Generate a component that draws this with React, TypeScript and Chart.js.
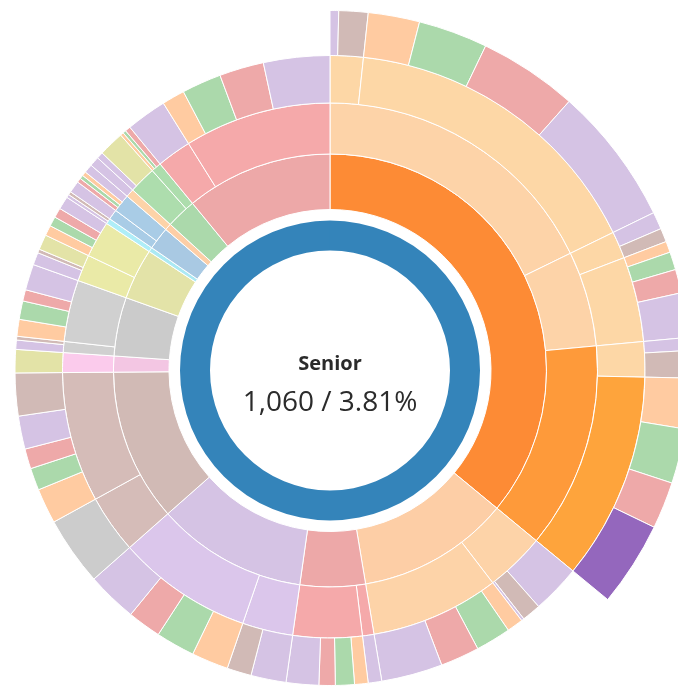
import React, { useEffect, useRef } from "react";
import { Chart, registerables } from "chart.js";

Chart.register(...registerables);

// ---------- data (counts; total 27,822) ----------
const TOTAL = 27822;
const centerLabel = "Senior";
const centerValue = 1060;

// ring 1 (root)
const ring1Values = [27822];

// ring 2
const ring2Cats = ["orange", "orange", "red", "purple", "brown", "pink", "gray", "olive", "cyan", "blue", "orange", "green", "red"];
const ring2Values = [10010, 3169, 1353, 3131, 3169, 332, 1221, 1059, 93, 472, 139, 626, 3048];
const ring2Active = 0;

// ring 3
const ring3Cats = ["orange", "orange", "orange", "orange", "orange", "red", "red", "purple", "purple", "brown", "brown", "pink", "gray", "gray", "olive", "olive", "cyan", "blue", "blue", "orange", "green", "green", "red", "red"];
const ring3Values = [4947, 1600, 3463, 1005, 2164, 193, 1160, 850, 2281, 982, 2187, 332, 186, 1035, 448, 611, 93, 170, 302, 139, 456, 170, 580, 2468];
const ring3Active = 2;

// ring 4
const ring4Cats = [
  "amber", "amber", "amber", "amber", "amber", "orange",
  "purple", "brown", "purple",
  "orange", "green", "red", "purple",
  "purple",
  "orange", "green", "red", "purple",
  "purple", "brown",
  "orange", "green", "red", "purple",
  "gray",
  "orange", "green", "red", "purple", "brown",
  "olive",
  "purple", "brown",
  "orange", "green", "red", "purple",
  "purple", "brown", "olive",
  "orange", "green", "red", "purple",
  "purple", "brown",
  "purple",
  "red", "green", "orange", "purple",
  "purple",
  "purple", "olive",
  "orange", "green", "red",
  "purple",
  "orange", "green", "red", "purple",
];
const ring4Values = [
  472, 4475, 387, 1213, 502, 2961,
  696, 271, 38,
  232, 502, 557, 873,
  193,
  193, 271, 232, 464,
  502, 348,
  526, 557, 479, 719,
  982,
  502, 317, 286, 472, 610,
  332,
  132, 54,
  240, 263, 162, 370,
  178, 54, 216,
  147, 139, 139, 186,
  46, 47,
  170,
  62, 54, 62, 124,
  139,
  93, 363,
  46, 46, 78,
  580,
  325, 564, 634, 945,
];
const ring4Active = 5;

// ring 5 (last value = empty remainder of the circle)
const ring5Cats = ["purple", "brown", "orange", "green", "red", "purple", "purple", "brown", "orange", "green", "red", "purple", "purple", "brown", "orange", "green", "red", "Senior", "none"];
const ring5Values = [108, 364, 642, 866, 1237, 1730, 216, 171, 139, 224, 294, 556, 162, 340, 630, 685, 586, 1060, 17812];
const ring5Active = 17;

// ---------- styles ----------
const COLORS2: Record<string, string> = {
  orange: "#FDCEA6", red: "#EDA8A8", purple: "#D5C3E4", brown: "#D1BAB5", pink: "#F3C6E3",
  gray: "#CBCBCB", olive: "#E3E3A8", cyan: "#ABE9F3", blue: "#A9C9E3", green: "#ABD9AB",
};
const COLORS3: Record<string, string> = {
  orange: "#FDD3A8", red: "#F5A9AA", purple: "#DBC6EB", brown: "#D5BCB8", pink: "#FBCBEC",
  gray: "#D0D0D0", olive: "#EAEAA7", cyan: "#AFEEF8", blue: "#A9CCE6", green: "#ADDDAD",
};
const COLORS4: Record<string, string> = {
  amber: "#FDD7A6", orange: "#FFCBA1", red: "#EEA9A9", purple: "#D5C3E4", brown: "#D1BAB6",
  gray: "#CCCCCC", olive: "#E3E3A7", green: "#ABD9AB",
};
const COLORS5: Record<string, string> = {
  orange: "#FFCBA1", red: "#EEA9A9", purple: "#D5C3E4", brown: "#D1BAB6", green: "#ABD9AB",
  Senior: "#9467BD", none: "rgba(0,0,0,0)",
};
const ACTIVE = ["#FD8B35", "#FE9A3A", "#FEA43C", "#9467BD"];

function colorsFor(cats: string[], map: Record<string, string>, active: number, activeColor: string) {
  return cats.map((c, i) => (i === active ? activeColor : map[c]));
}

export default function App() {
  const ref = useRef<HTMLCanvasElement | null>(null);

  useEffect(() => {
    if (!ref.current) return;
    const chart = new Chart(ref.current, {
      type: "doughnut",
      data: {
        datasets: [
          {
            data: ring5Values,
            backgroundColor: colorsFor(ring5Cats, COLORS5, ring5Active, ACTIVE[3]),
            borderColor: "#ffffff",
            borderWidth: ring5Cats.map((c) => (c === "none" ? 0 : 1)),
            weight: 45,
          },
          {
            data: ring4Values,
            backgroundColor: colorsFor(ring4Cats, COLORS4, ring4Active, ACTIVE[2]),
            borderColor: "#ffffff",
            borderWidth: 1,
            weight: 47.5,
          },
          {
            data: ring3Values,
            backgroundColor: colorsFor(ring3Cats, COLORS3, ring3Active, ACTIVE[1]),
            borderColor: "#ffffff",
            borderWidth: 1,
            weight: 51,
          },
          {
            data: ring2Values,
            backgroundColor: colorsFor(ring2Cats, COLORS2, ring2Active, ACTIVE[0]),
            borderColor: "#ffffff",
            borderWidth: 1,
            weight: 55.5,
          },
          {
            data: [TOTAL],
            backgroundColor: ["rgba(0,0,0,0)"],
            borderWidth: 0,
            weight: 11,
          },
          {
            data: ring1Values,
            backgroundColor: ["#3484BA"],
            borderWidth: 0,
            weight: 30,
          },
        ],
      },
      options: {
        responsive: false,
        animation: false,
        events: [],
        cutout: "33.3333%",
        radius: 360,
        layout: { padding: { left: 0, right: 18, top: 55, bottom: 0 } },
        plugins: { legend: { display: false }, tooltip: { enabled: false } },
      } as any,
    });
    return () => chart.destroy();
  }, []);

  const pct = ((centerValue / TOTAL) * 100).toFixed(2);

  return (
    <div style={{ position: "fixed", left: 0, top: 0, width: 678, height: 686, overflow: "hidden", background: "#fff" }}>
      <canvas ref={ref} width={678} height={686} style={{ position: "absolute", left: 0, top: 0, width: 678, height: 686 }} />
      <div
        style={{
          position: "absolute", left: 230, width: 200, top: 353, textAlign: "center",
          fontFamily: "'Open Sans', sans-serif", fontWeight: 700, fontSize: 20, lineHeight: "20px", color: "#2b2b2b",
        }}
      >
        {centerLabel}
      </div>
      <div
        style={{
          position: "absolute", left: 180, width: 300, top: 386, textAlign: "center",
          fontFamily: "'Open Sans', sans-serif", fontWeight: 400, fontSize: 28, lineHeight: "28px", color: "#2b2b2b",
        }}
      >
        {centerValue.toLocaleString("en-US")} / {pct}%
      </div>
    </div>
  );
}
